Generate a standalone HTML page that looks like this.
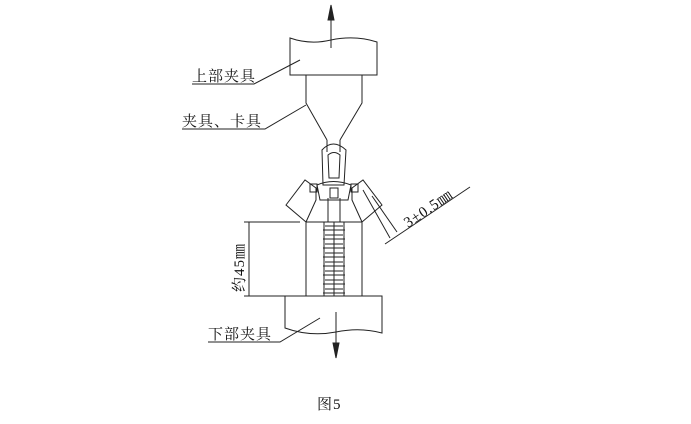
<!DOCTYPE html>
<html><head><meta charset="utf-8"><style>
body{margin:0;background:#fff;width:691px;height:424px;overflow:hidden}
</style></head><body>
<svg width="691" height="424" viewBox="0 0 691 424" xmlns="http://www.w3.org/2000/svg" style="position:absolute;left:0;top:0">
<g fill="none" stroke="#222" stroke-width="1">
<path d="M290,38 Q310,45 331,40 Q355,35 377,42 L377,75 L290,75 Z"/>
<line x1="331" y1="48" x2="331" y2="12"/>
<path d="M331,5 L328,20 L334,20 Z" fill="#222"/>
<path d="M306,75 L306,103 L327,140 M362,75 L362,103 L340,140"/>
<path d="M327,140 L327,152 M340,140 L340,152"/>
<path d="M322,150 Q333,138 346,150 L344,185 L323,185 Z"/>
<path d="M328,155 Q334,150 340,155 L339,178 L329,178 Z"/>
<rect x="330" y="188" width="8" height="10"/>
<path d="M317,185 Q333,178 351,185 L348,200 L320,200 Z"/>
<line x1="328" y1="198" x2="328" y2="222"/><line x1="340" y1="198" x2="340" y2="222"/>
<path d="M306,222 L286,205 L305,180 L316,188 L316,200 L306,222"/>
<path d="M362,222 L382,205 L363,180 L352,188 L352,200 L362,222"/>
<rect x="310" y="184" width="7" height="8"/><rect x="351" y="184" width="7" height="8"/>
<path d="M306,222 L306,296 M362,222 L362,296 M306,222 L328,222 M340,222 L362,222"/>
<path d="M324,222 h20 v74 h-20 Z"/>
<path d="M285,296 L382,296 L382,333 Q360,327 336,332 Q310,337 285,328 Z"/>
<line x1="336" y1="312" x2="336" y2="345"/>
<path d="M336,358 L333,343 L339,343 Z" fill="#222"/>
<line x1="249" y1="222" x2="249" y2="296"/>
<line x1="244" y1="222" x2="300" y2="222"/>
<line x1="244" y1="296" x2="285" y2="296"/>
<line x1="363" y1="190" x2="390" y2="238"/>
<line x1="372" y1="196" x2="397" y2="232"/>
<line x1="385" y1="244" x2="470" y2="187"/>
<path d="M192,84 L254,84 L300,60"/>
<path d="M182,129 L265,129 L306,105"/>
<path d="M208,342 L280,342 L320,318"/>
</g>
<g fill="#222" stroke="#222" stroke-width="1">
<path d="M325,226 h18 M325,235 h18 M325,244 h18 M325,253 h18 M325,262 h18 M325,271 h18 M325,280 h18 M325,289 h18"/>
<path d="M323,230 h22 M323,239 h22 M323,248 h22 M323,257 h22 M323,266 h22 M323,275 h22 M323,284 h22 M323,293 h22"/>
<line x1="334" y1="222" x2="334" y2="296"/>
</g>
<g font-family="Liberation Serif, Noto Serif CJK SC, serif" font-size="15" fill="#111" letter-spacing="1">
<text x="192" y="81">上部夹具</text>
<text x="182" y="126">夹具、卡具</text>
<text x="208" y="339">下部夹具</text>
<text x="317" y="409">图5</text>
<text transform="translate(244,292) rotate(-90)">约45㎜</text>
<text transform="translate(408,228) rotate(-34)">3±0.5㎜</text>
</g>
</svg>
</body></html>
